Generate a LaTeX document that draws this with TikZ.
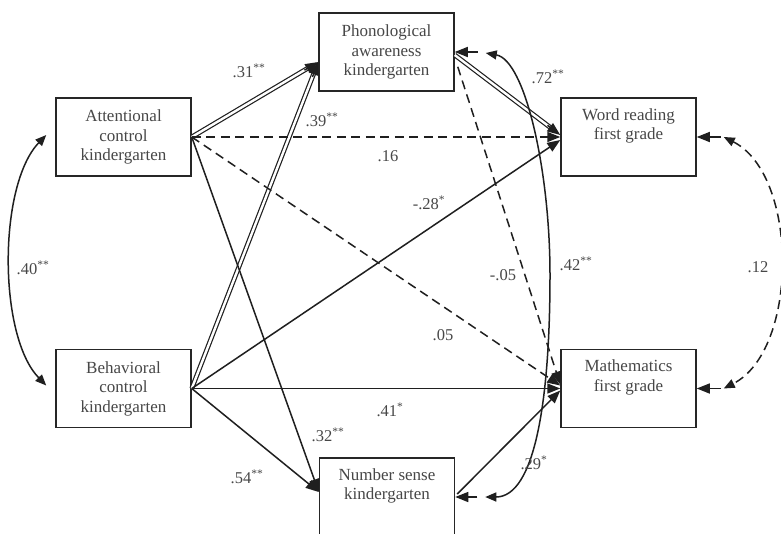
\documentclass[tikz,border=0pt]{standalone}
\usepackage{fontspec}
\setmainfont{Liberation Serif}
\usetikzlibrary{arrows.meta,calc}
\begin{document}
\begin{tikzpicture}[x=1pt,y=-1pt,
  box/.style={draw=black!85, line width=1.5pt, minimum width=135pt, minimum height=78pt,
    inner sep=0pt, align=center, text=black!72, font=\fontsize{17}{19.5}\selectfont},
  lab/.style={text=black!72, font=\fontsize{16.5}{18}\selectfont, inner sep=0pt},
  tip/.style={-{Triangle[length=13pt,width=10pt]}},
  btip/.style={{Triangle[length=11pt,width=9pt]}-{Triangle[length=11pt,width=9pt]}},
  ln/.style={line width=1.5pt, draw=black!88},
  dsh/.style={ln, dash pattern=on 9pt off 5.5pt},
  dbl/.style={line width=1.2pt, draw=black!88, double=white, double distance=2.4pt},
]
\useasboundingbox (0,0) rectangle (781,533);
\clip (0,0) rectangle (781,533);
\fill[white] (0,0) rectangle (781,533);

% boxes
\node[box] (attn)  at (123.5,137)   {Attentional\\control\\kindergarten};
\node[box] (behav) at (123.5,388.5) {Behavioral\\control\\kindergarten};
\node[box] (phon)  at (386.5,52)    {Phonological\\awareness\\kindergarten};
\node[box] (wr)    at (628.5,137)   {Word reading\\first grade\\\strut};
\node[box] (math)  at (628.5,388.5) {Mathematics\\first grade\\\strut};
\node[box] (ns)    at (387,497)     {Number sense\\kindergarten\\\strut};

% named connection points
\coordinate (pIn)   at ($(phon.west)+(0,10)$);
\coordinate (nsIn)  at ($(ns.west)+(0,-5)$);
\coordinate (pOut1) at ($(phon.east)+(0,3)$);
\coordinate (pOut2) at ($(phon.south east)+(3,-25)$);
\coordinate (nsOut) at ($(ns.east)+(2,-3)$);
\coordinate (wrA)   at ($(wr.west)+(0,-2)$);
\coordinate (wrB)   at ($(wr.west)+(0,3)$);
\coordinate (mA)    at ($(math.west)+(0,-3)$);
\coordinate (mB)    at ($(math.west)+(0,-4)$);
\coordinate (mC)    at ($(math.west)+(0,2)$);

% double-line paths
\draw[dbl, shorten >=10pt] (attn.east) -- (pIn);
\draw[ln, tip] ($(pIn)!16pt!(attn.east)$) -- (pIn);
\draw[dbl, shorten >=10pt] (behav.east) -- (pIn);
\draw[ln, tip] ($(pIn)!16pt!(behav.east)$) -- (pIn);
\draw[dbl, shorten >=10pt] (pOut1) -- (wrA);
\draw[ln, tip] ($(wrA)!16pt!(pOut1)$) -- (wrA);

% dashed paths
\draw[dsh, tip] (attn.east) -- (wr.west);
\draw[dsh, tip] (attn.east) -- (mA);
\draw[dsh, tip] (pOut2) -- (mB);

% solid paths
\draw[ln, tip] (attn.east) -- (nsIn);
\draw[ln, tip] (behav.east) -- (wrB);
\draw[ln, tip] (behav.east) -- (math.west);
\draw[ln, tip] (behav.east) -- (nsIn);
\draw[ln, tip] (nsOut) -- (mC);

% covariances
\coordinate (aCv) at ($(attn.west)+(-9,-2)$);
\coordinate (bCv) at ($(behav.west)+(-9,-3)$);
\draw[ln, btip] (aCv) .. controls (-2,185) and (-2,336) .. (bCv);

\coordinate (pS)  at ($(phon.east)+(23,0)$);
\coordinate (pCv) at ($(phon.east)+(31,1)$);
\coordinate (nS)  at ($(ns.east)+(22,0)$);
\coordinate (nCv) at ($(ns.east)+(30,0)$);
\draw[ln, tip] (pS) -- (phon.east);
\draw[ln, tip] (nS) -- (ns.east);
\draw[ln, btip] (pCv) .. controls (525,60) and (550,170) .. (550,275)
                      .. controls (550,400) and (535,497) .. (nCv);

\coordinate (wS)  at ($(wr.east)+(24,0)$);
\coordinate (wCv) at ($(wr.east)+(27,0)$);
\coordinate (mS)  at ($(math.east)+(24,0)$);
\coordinate (mCv) at ($(math.east)+(27,0)$);
\draw[ln, tip] (wS) -- (wr.east);
\draw[ln, tip] (mS) -- (math.east);
\draw[dsh, btip] (wCv) .. controls (799,175) and (799,350) .. (mCv);

% labels
\node[lab] (l31) at (249,71)  {.31\textsuperscript{**}};
\node[lab] (l39) at (322,120) {.39\textsuperscript{**}};
\node[lab] (l16) at (388,156) {.16};
\node[lab] (l72) at (548,77)  {.72\textsuperscript{**}};
\node[lab] (l28) at (429,203) {-.28\textsuperscript{*}};
\node[lab] (l40) at (33,268)  {.40\textsuperscript{**}};
\node[lab] (l12) at (758,267) {.12};
\node[lab] (l42) at (576,264) {.42\textsuperscript{**}};
\node[lab] (l05a) at (503,275) {-.05};
\node[lab] (l05b) at (443,335) {.05};
\node[lab] (l41) at (390,410) {.41\textsuperscript{*}};
\node[lab] (l32) at (328,435) {.32\textsuperscript{**}};
\node[lab] (l54) at (247,477) {.54\textsuperscript{**}};
\node[lab] (l29) at (534,463) {.29\textsuperscript{*}};
\end{tikzpicture}
\end{document}
